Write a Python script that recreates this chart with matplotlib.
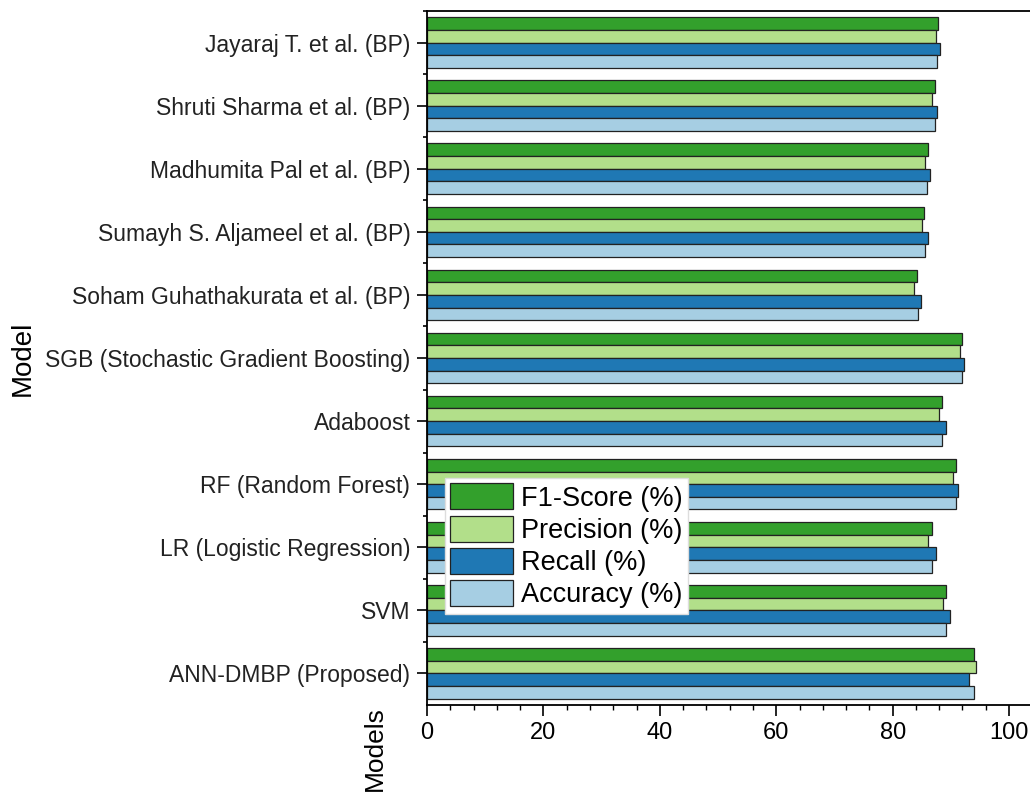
import numpy as np
import matplotlib.pyplot as plt
from matplotlib.ticker import MultipleLocator

plt.rcParams['font.family'] = ['Liberation Sans', 'DejaVu Sans']

# models, bottom to top
models = ['ANN-DMBP (Proposed)', 'SVM', 'LR (Logistic Regression)', 'RF (Random Forest)',
          'Adaboost', 'SGB (Stochastic Gradient Boosting)', 'Soham Guhathakurata et al. (BP)',
          'Sumayh S. Aljameel et al. (BP)', 'Madhumita Pal et al. (BP)',
          'Shruti Sharma et al. (BP)', 'Jayaraj T. et al. (BP)']

f1_score = [93.9, 89.2, 86.8, 90.9, 88.4, 92.0, 84.2, 85.4, 86.0, 87.2, 87.8]
precision = [94.3, 88.6, 86.0, 90.4, 87.9, 91.6, 83.7, 85.0, 85.6, 86.8, 87.4]
recall = [93.2, 89.8, 87.4, 91.2, 89.1, 92.2, 84.8, 86.1, 86.4, 87.6, 88.2]
accuracy = [93.9, 89.2, 86.8, 90.9, 88.5, 92.0, 84.3, 85.5, 85.9, 87.2, 87.7]

series = [('F1-Score (%)', f1_score, '#33a02c'),
          ('Precision (%)', precision, '#b2df8a'),
          ('Recall (%)', recall, '#1f78b4'),
          ('Accuracy (%)', accuracy, '#a6cee3')]

fig = plt.figure(figsize=(10.3, 7.94), dpi=100)
ax = fig.add_axes([427/1030, 89/794, 603/1030, 694/794])

y = np.arange(len(models))
h = 0.2
offsets = [1.5*h, 0.5*h, -0.5*h, -1.5*h]
for (label, vals, col), off in zip(series, offsets):
    ax.barh(y + off, vals, height=h, color=col, edgecolor='#222222', linewidth=0.9, label=label)

ax.set_xlim(0, 103.6)
ax.set_ylim(-0.5, 10.5)
ax.set_yticks(y)
ax.set_yticklabels(models, fontsize=16.5, color='#222222')
ax.set_yticks(y + 0.5, minor=True)
ax.xaxis.set_major_locator(MultipleLocator(20))
ax.xaxis.set_minor_locator(MultipleLocator(4))
ax.tick_params(axis='x', which='major', length=8, width=1.2, direction='out', labelsize=17, pad=4)
ax.tick_params(axis='x', which='minor', length=3.5, width=1, direction='out')
ax.tick_params(axis='y', which='major', length=7, width=1.2, direction='out', pad=5)
ax.tick_params(axis='y', which='minor', length=3, width=1.2, direction='out')
for lab in ax.get_xticklabels():
    lab.set_family(['Liberation Sans Narrow', 'Liberation Sans'])
ax.spines['right'].set_visible(False)
for s in ['left', 'bottom', 'top']:
    ax.spines[s].set_linewidth(1.3)

fig.text(23/1030, 1 - 358/794, 'Model', rotation=90, ha='center', va='center', fontsize=20)
fig.text(375/1030, 1 - 706/794, 'Models', rotation=90, ha='center', va='top', fontsize=19)

ax.legend(loc='upper left', bbox_to_anchor=(445/1030, 1 - 478/794), bbox_transform=fig.transFigure,
          fontsize=19.5, handlelength=2.3, handleheight=1.1, labelspacing=0.15, handletextpad=0.3,
          borderpad=0.2, borderaxespad=0, fancybox=False, framealpha=1, edgecolor='#dddddd')

fig.savefig('out.png', dpi=100)
